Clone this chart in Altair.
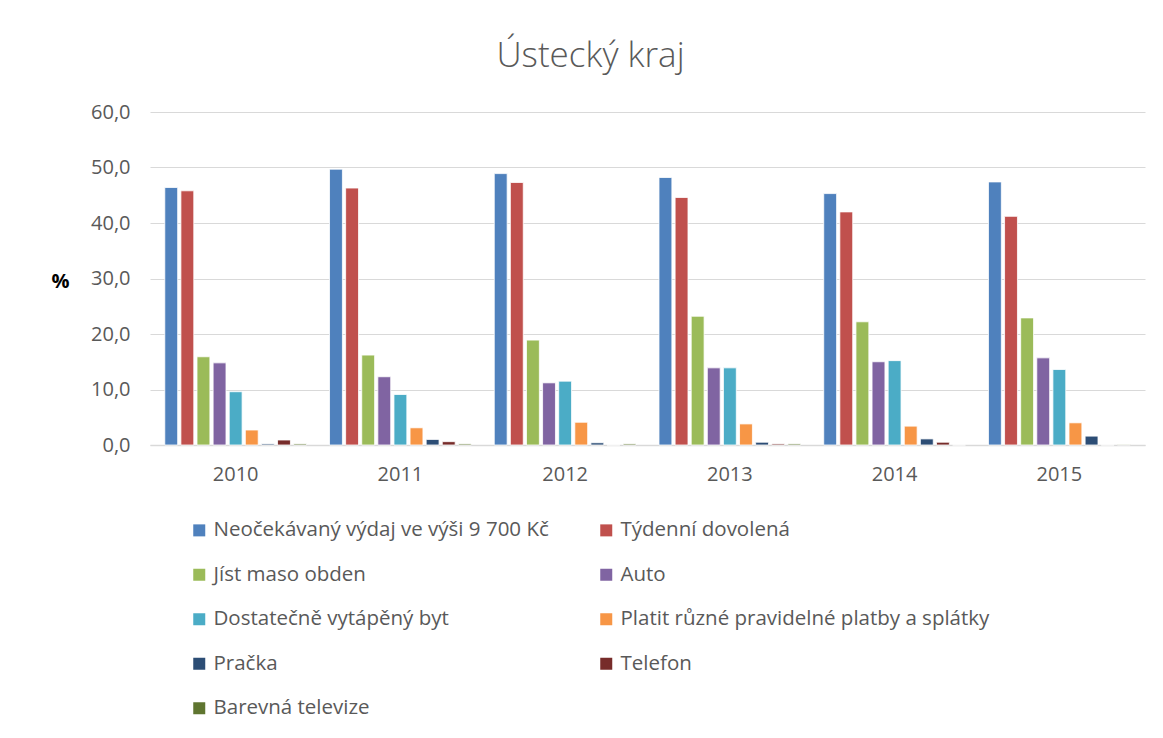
import altair as alt
import pandas as pd

years = ["2010", "2011", "2012", "2013", "2014", "2015"]
series = [
    "Neočekávaný výdaj ve výši 9 700 Kč",
    "Týdenní dovolená",
    "Jíst maso obden",
    "Auto",
    "Dostatečně vytápěný byt",
    "Platit různé pravidelné platby a splátky",
    "Pračka",
    "Telefon",
    "Barevná televize",
]
colors = ["#4F81BD", "#C0504D", "#9BBB59", "#8064A2", "#4BACC6",
          "#F79646", "#2C4D75", "#772C2A", "#5F7530"]

neocekavany = [46.4, 49.7, 48.9, 48.2, 45.3, 47.4]
tydenni = [45.8, 46.3, 47.3, 44.6, 42.0, 41.2]
maso = [15.9, 16.2, 18.9, 23.2, 22.2, 22.9]
auto = [14.8, 12.3, 11.2, 13.9, 15.0, 15.7]
vytapeny = [9.6, 9.1, 11.5, 13.9, 15.2, 13.6]
platby = [2.7, 3.1, 4.1, 3.8, 3.4, 4.0]
pracka = [0.2, 1.0, 0.4, 0.5, 1.1, 1.6]
telefon = [0.9, 0.6, 0.0, 0.2, 0.5, 0.0]
televize = [0.2, 0.2, 0.2, 0.2, 0.0, 0.1]

values = [neocekavany, tydenni, maso, auto, vytapeny, platby, pracka, telefon, televize]

rows = []
for s, vals in zip(series, values):
    for y, v in zip(years, vals):
        rows.append({"rok": y, "kategorie": s, "hodnota": v})
df = pd.DataFrame(rows)

FONT = "Open Sans"

chart = alt.Chart(df).mark_bar(stroke="white", strokeWidth=0.8).encode(
    x=alt.X("rok:N", sort=years,
            scale=alt.Scale(paddingInner=0.12, paddingOuter=0.08),
            axis=alt.Axis(title=None, labelAngle=0, labelFontSize=20, labelColor="#595959",
                          labelFont=FONT, ticks=False, domainColor="#d9d9d9",
                          domainWidth=1.5, labelPadding=19, grid=False)),
    xOffset=alt.XOffset("kategorie:N", sort=series,
                        scale=alt.Scale(paddingInner=0.2, paddingOuter=0.1)),
    y=alt.Y("hodnota:Q", scale=alt.Scale(domain=[0, 60], nice=False),
            axis=alt.Axis(title="%", titleAngle=0, titleFontSize=20, titleFont=FONT,
                          titleFontWeight="bold", titleColor="#000000",
                          titleX=-90, titleY=179,
                          values=[0, 10, 20, 30, 40, 50, 60],
                          labelExpr="replace(format(datum.value, '.1f'), '.', ',')",
                          labelFontSize=20, labelColor="#595959", labelFont=FONT,
                          ticks=False, domain=False, gridColor="#d9d9d9",
                          gridWidth=1.2, labelPadding=20)),
    color=alt.Color("kategorie:N", sort=series,
                    scale=alt.Scale(domain=series, range=colors),
                    legend=alt.Legend(title=None, orient="none", legendX=39, legendY=408,
                                      direction="horizontal",
                                      columns=2, symbolType="square", symbolSize=144,
                                      symbolStrokeWidth=0, labelFontSize=20.5,
                                      labelFont=FONT, labelColor="#595959",
                                      labelLimit=600, rowPadding=23.5,
                                      columnPadding=47, labelOffset=4)),
).properties(
    width=995,
    height=333,
    title=alt.TitleParams("Ústecký kraj", fontSize=35, font=FONT, fontWeight=300,
                          color="#595959", offset=28, dx=-57),
    autosize=alt.AutoSizeParams(type="none"),
    padding={"left": 142, "top": 104, "right": 10, "bottom": 285},
).configure_view(stroke=None)

chart.save("out.html", embed_options={"renderer": "svg", "actions": False})
